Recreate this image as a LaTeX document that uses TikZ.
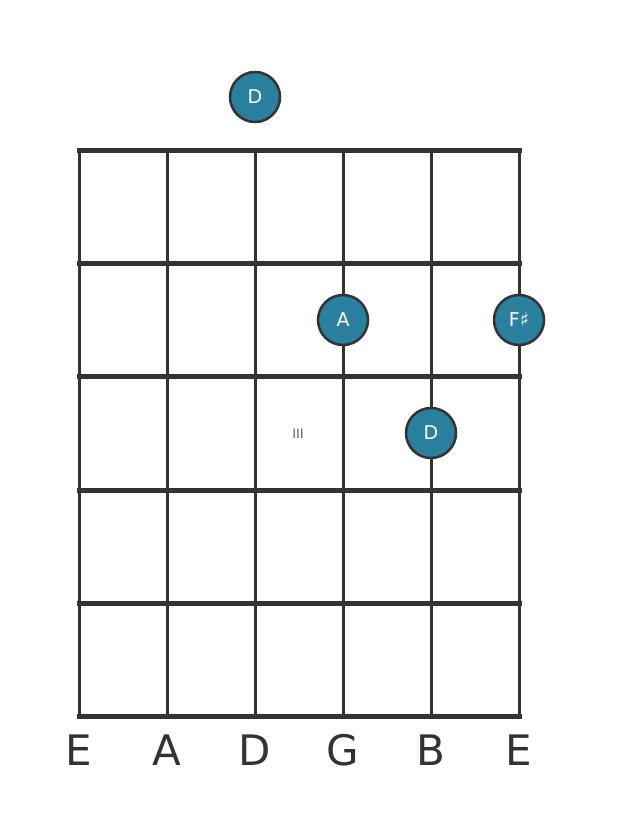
\documentclass[tikz,border=0pt]{standalone}
\usepackage{fontspec}
\setmainfont{DejaVu Sans}
\definecolor{gridc}{HTML}{333333}
\definecolor{dotc}{HTML}{2A7F9E}
\definecolor{fretlbl}{HTML}{666666}
\begin{document}
\begin{tikzpicture}[x=1pt,y=-1pt,
  fretline/.style={line width=5pt,draw=gridc,line cap=rect},
  stringline/.style={line width=3pt,draw=gridc},
  notedot/.style={circle,fill=dotc,draw=gridc,line width=2.5pt,minimum size=50pt,inner sep=0pt,text=white,font=\fontsize{19}{19}\selectfont},
  strlabel/.style={anchor=base,text=gridc,font=\fontsize{42}{42}\selectfont,inner sep=0pt}]
\useasboundingbox (0,0) rectangle (617,835);
% strings
\foreach \i/\x in {1/79,2/167,3/255,4/343,5/431,6/519}{
  \coordinate (st\i) at (\x,150);
  \coordinate (sb\i) at (\x,716);
  \draw[stringline] (st\i) -- (sb\i);
}
% frets
\foreach \j/\y in {0/150,1/263,2/376,3/490,4/603,5/716}{
  \coordinate (fl\j) at (79,\y);
  \coordinate (fr\j) at (519,\y);
  \draw[fretline] (fl\j) -- (fr\j);
}
\node[text=fretlbl,font=\fontsize{13}{13}\selectfont] (fretnum) at (298,434) {III};
\node[notedot] (d0) at (255,97) {D};
\node[notedot] (a2) at (343,320) {A};
\node[notedot] (fs2) at (519,320) {F♯};
\node[notedot] (d3) at (431,433) {D};
\foreach \i/\x/\n in {1/79/E,2/167/A,3/255/D,4/343/G,5/431/B,6/519/E}{
  \node[strlabel] (lbl\i) at (\x,765) {\n};
}
\end{tikzpicture}
\end{document}
